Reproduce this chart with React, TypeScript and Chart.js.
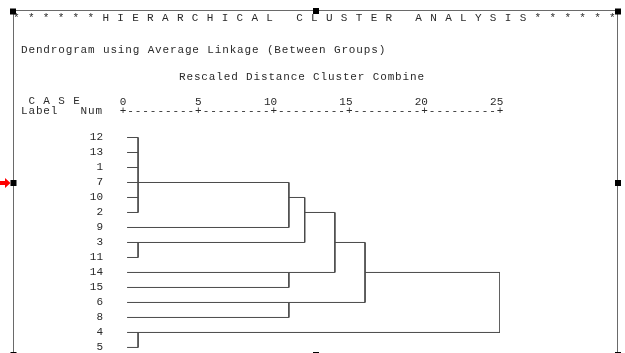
import React, { useEffect, useRef } from 'react';
import { Chart, registerables } from 'chart.js';

Chart.register(...registerables);

// ---- data ----
const CASE_LABELS = ['12', '13', '1', '7', '10', '2', '9', '3', '11', '14', '15', '6', '8', '4', '5'];
const SCALE_TICKS = [0, 5, 10, 15, 20, 25];
const LEAF_START = 0.27;
// merge steps: children ('L#' = case row, 'N#' = earlier merge), rescaled distance, row of the outgoing line
const MERGE_CHILDREN = [
  ['L0', 'L1', 'L2', 'L3', 'L4', 'L5'],
  ['L7', 'L8'],
  ['L13', 'L14'],
  ['N0', 'L6'],
  ['L9', 'L10'],
  ['L11', 'L12'],
  ['N3', 'N1'],
  ['N6', 'N4'],
  ['N7', 'N5'],
  ['N8', 'N2'],
];
const MERGE_DISTANCE = [1.0, 1.0, 1.0, 11.0, 11.0, 11.0, 12.05, 14.05, 16.05, 25.0];
const MERGE_ROW = [3, 7, 13, 4, 9, 11, 5, 7, 9, 11];

const HEADER = '* * * * * * H I E R A R C H I C A L   C L U S T E R   A N A L Y S I S * * * * * *';
const TITLE = 'Dendrogram using Average Linkage (Between Groups)';
const SUBTITLE = 'Rescaled Distance Cluster Combine';
const CASE_HEAD = ' C A S E';
const LABEL_HEAD = 'Label   Num';

const FONT_FAMILY = '"Liberation Mono", "DejaVu Sans Mono", monospace';
const TEXT_COLOR = '#2a2a2a';
const LINE_COLOR = '#4a4a4a';

function buildSegments() {
  const segs: { x: number; y: number }[][] = [];
  const ref = (c: string) => {
    const idx = parseInt(c.slice(1), 10);
    if (c[0] === 'L') return { x: LEAF_START, row: idx };
    return { x: MERGE_DISTANCE[idx], row: MERGE_ROW[idx] };
  };
  MERGE_CHILDREN.forEach((children, k) => {
    const d = MERGE_DISTANCE[k];
    const rows: number[] = [];
    children.forEach((c) => {
      const r = ref(c);
      rows.push(r.row);
      segs.push([{ x: r.x, y: r.row }, { x: d, y: r.row }]);
    });
    segs.push([{ x: d, y: Math.min(...rows) }, { x: d, y: Math.max(...rows) }]);
  });
  return segs;
}

const framePlugin = {
  id: 'spssFrame',
  afterDraw(chart: any) {
    const ctx = chart.ctx as CanvasRenderingContext2D;
    const xs = chart.scales.x;
    ctx.save();
    // frame
    ctx.strokeStyle = '#6a6a6a';
    ctx.lineWidth = 1;
    ctx.beginPath();
    ctx.moveTo(13.5, 10.5);
    ctx.lineTo(617.5, 10.5);
    ctx.moveTo(13.5, 10.5);
    ctx.lineTo(13.5, 360);
    ctx.moveTo(617.5, 10.5);
    ctx.lineTo(617.5, 360);
    ctx.stroke();
    // handles
    ctx.fillStyle = '#000';
    const handles = [
      [13, 11.5], [316, 11], [618, 11.5],
      [13.5, 183], [618, 183],
      [13.5, 355], [316, 355], [618, 355],
    ];
    handles.forEach(([hx, hy]) => ctx.fillRect(hx - 3, hy - 3, 6, 6));
    // red arrow
    ctx.fillStyle = '#ff0000';
    ctx.beginPath();
    ctx.moveTo(0, 181);
    ctx.lineTo(5, 181);
    ctx.lineTo(5, 178);
    ctx.lineTo(10.5, 183);
    ctx.lineTo(5, 188);
    ctx.lineTo(5, 185);
    ctx.lineTo(0, 185);
    ctx.closePath();
    ctx.fill();

    // text
    ctx.fillStyle = TEXT_COLOR;
    ctx.font = `11px ${FONT_FAMILY}`;
    ctx.textBaseline = 'middle';
    ctx.textAlign = 'left';
    (ctx as any).letterSpacing = '0.85px';
    ctx.fillText(HEADER, 13, 18.5);
    ctx.fillText(TITLE, 21, 50);
    ctx.fillText(SUBTITLE, 179, 77);
    ctx.fillText(CASE_HEAD, 21, 101.5);
    ctx.fillText(LABEL_HEAD, 21, 111.5);
    (ctx as any).letterSpacing = '0px';

    // ruler "+---------+" from scale ticks
    ctx.textAlign = 'center';
    const y = 111.5;
    for (let i = 0; i < SCALE_TICKS.length; i++) {
      const p = xs.getPixelForValue(SCALE_TICKS[i]);
      ctx.fillText('+', p, y);
      if (i < SCALE_TICKS.length - 1) {
        const p2 = xs.getPixelForValue(SCALE_TICKS[i + 1]);
        const step = (p2 - p) / 10;
        let dashes = '';
        for (let j = 1; j < 10; j++) dashes += '-';
        ctx.save();
        (ctx as any).letterSpacing = `${step - 6.6}px`;
        ctx.textAlign = 'left';
        ctx.fillText(dashes, p + step - 3.3, y);
        ctx.restore();
      }
    }
    ctx.restore();
  },
};

export default function App() {
  const canvasRef = useRef<HTMLCanvasElement | null>(null);

  useEffect(() => {
    const canvas = canvasRef.current;
    if (!canvas) return;
    const segs = buildSegments();
    const chart = new Chart(canvas, {
      type: 'scatter',
      data: {
        datasets: segs.map((s) => ({
          data: s,
          showLine: true,
          borderColor: LINE_COLOR,
          borderWidth: 1,
          pointRadius: 0,
          pointHoverRadius: 0,
          fill: false,
        })),
      },
      options: {
        responsive: false,
        animation: false,
        events: [],
        devicePixelRatio: 1,
        layout: { padding: { left: 0, right: 125, top: 0, bottom: 0 } },
        plugins: {
          legend: { display: false },
          tooltip: { enabled: false },
          title: { display: false },
        },
        scales: {
          x: {
            type: 'linear',
            position: 'top',
            min: 0,
            max: 25,
            grid: { display: false, drawTicks: false },
            border: { display: false },
            afterBuildTicks: (scale: any) => {
              scale.ticks = SCALE_TICKS.map((v) => ({ value: v }));
            },
            afterFit: (scale: any) => {
              scale.height = 122.5;
              scale.paddingLeft = 0;
              scale.paddingRight = 0;
            },
            ticks: {
              autoSkip: false,
              maxRotation: 0,
              padding: 14,
              color: TEXT_COLOR,
              font: { family: FONT_FAMILY, size: 11 },
              callback: (v: any) => (Number(v) >= 10 ? `${v} ` : `${v}`),
            },
          },
          y: {
            type: 'linear',
            reverse: true,
            min: -1,
            max: 14.37,
            grid: { display: false, drawTicks: false },
            border: { display: false },
            afterBuildTicks: (scale: any) => {
              scale.ticks = CASE_LABELS.map((_, i) => ({ value: i }));
            },
            afterFit: (scale: any) => {
              scale.width = 123;
              scale.paddingTop = 0;
              scale.paddingBottom = 0;
            },
            ticks: {
              autoSkip: false,
              padding: 20,
              color: TEXT_COLOR,
              font: { family: FONT_FAMILY, size: 11 },
              callback: (v: any) => CASE_LABELS[Number(v)] ?? '',
            },
          },
        },
      },
      plugins: [framePlugin],
    } as any);
    return () => chart.destroy();
  }, []);

  return (
    <div style={{ position: 'fixed', left: 0, top: 0, width: 625, height: 353, background: '#fff' }}>
      <canvas ref={canvasRef} width={625} height={353} style={{ display: 'block', width: 625, height: 353 }} />
    </div>
  );
}
